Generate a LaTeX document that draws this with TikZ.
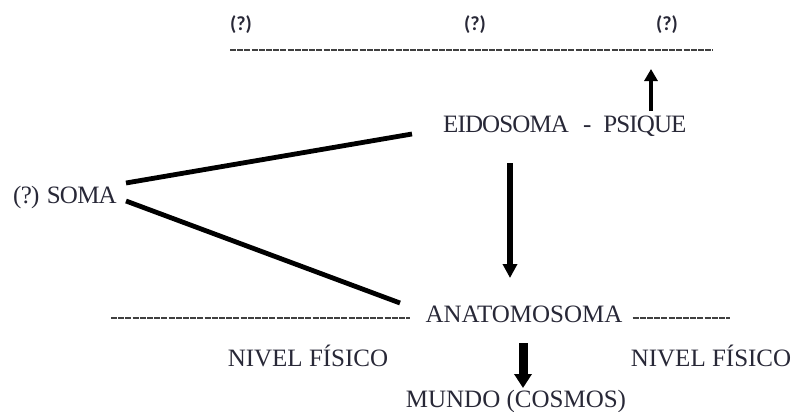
\documentclass[tikz,border=0pt]{standalone}
\usepackage{fontspec}
\setmainfont{Liberation Serif}
\newfontfamily\qfont{Carlito}
\usetikzlibrary{arrows.meta}
\definecolor{ink}{RGB}{40,40,55}
\begin{document}
\begin{tikzpicture}[x=1pt,y=1pt,
  lbl/.style={inner sep=0pt, anchor=base, font=\fontsize{25}{28}\selectfont, text=ink},
  qmark/.style={inner sep=0pt, anchor=base, font=\qfont\bfseries\fontsize{20}{24}\selectfont, text=ink},
  rule/.style={line width=1.4pt, black!75, dash pattern=on 6pt off 1.2pt},
  bar/.style={line width=4.8pt}]
\useasboundingbox (0,0) rectangle (803,-412);

% top row of unknowns
\node[qmark] (q1) at (241,-31) {(?)};
\node[qmark] (q2) at (475,-31) {(?)};
\node[qmark] (q3) at (667,-31) {(?)};
\coordinate (topL) at (230,-50);
\coordinate (topR) at (713,-50);
\draw[rule] (topL) -- (topR);

% main terms
\node[lbl, anchor=base west] (eido) at (443,-132)
  {\addfontfeature{LetterSpace=-3.5}EIDOSOMA\hspace{14pt}-\hspace{12pt}PSIQUE};
\node[lbl, anchor=base west] (soma) at (13,-203) {\addfontfeature{LetterSpace=-3}(?) SOMA};
\node[lbl] (anat) at (524,-322) {ANATOMOSOMA};
\node[lbl] (fis1) at (308,-366) {NIVEL FÍSICO};
\node[lbl] (fis2) at (711,-366) {NIVEL FÍSICO};
\node[lbl] (mundo) at (516,-407) {MUNDO (COSMOS)};

% physical level rule
\coordinate (physL) at (111,-318);
\coordinate (physR) at (730,-318);
\draw[rule] (physL) -- ([xshift=-15pt]anat.west |- physL);
\draw[rule] ([xshift=10pt]anat.east |- physR) -- (physR);

% branches from SOMA
\coordinate (sU) at (126,-183);
\coordinate (sD) at (126,-201);
\coordinate (eU) at (412,-134);
\coordinate (aD) at (400,-303);
\draw[bar] (sU) -- (eU);
\draw[bar] (sD) -- (aD);

% arrows
\coordinate (upS) at (651,-111);
\coordinate (upE) at (651,-69);
\draw[line width=4.5pt, -{Triangle[width=13pt,length=12pt]}] (upS) -- (upE);
\coordinate (midS) at (510,-163);
\coordinate (midE) at (510,-278);
\draw[line width=5.5pt, -{Triangle[width=14pt,length=14pt]}] (midS) -- (midE);
\coordinate (lowS) at (523,-343);
\coordinate (lowE) at (523,-388);
\draw[line width=9pt, -{Triangle[width=17pt,length=14pt]}] (lowS) -- (lowE);
\end{tikzpicture}
\end{document}
